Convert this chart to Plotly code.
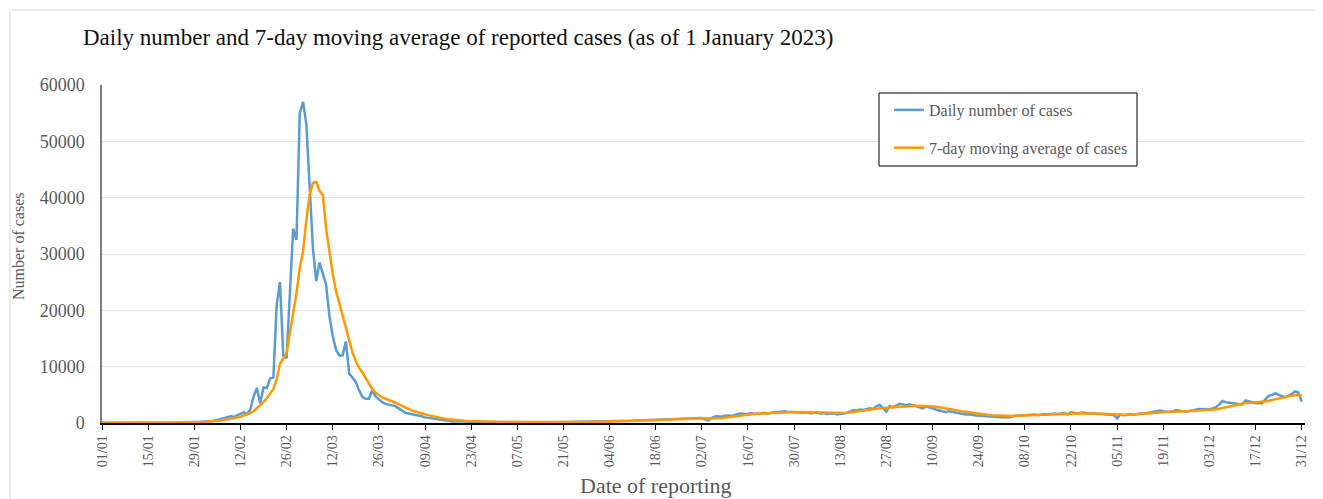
import pandas as pd
import plotly.graph_objects as go

# ---------------- data ----------------
dates = pd.date_range("2022-01-01", "2022-12-31", freq="D")

tick_labels = ["01/01", "15/01", "29/01", "12/02", "26/02", "12/03", "26/03", "09/04", "23/04",
               "07/05", "21/05", "04/06", "18/06", "02/07", "16/07", "30/07", "13/08", "27/08",
               "10/09", "24/09", "08/10", "22/10", "05/11", "19/11", "03/12", "17/12", "31/12"]

daily_cases = (
    # Jan
    [30, 20, 40, 30, 50, 40, 30, 40, 50, 40, 50, 60, 50, 40,
     60, 50, 70, 60, 80, 70, 90, 80, 100, 90, 120, 110, 140, 130,
     160, 180, 200]
    # Feb
    + [230, 260, 320, 400, 550, 700, 900, 1000, 1200, 1100, 1400, 1600, 1900, 1600,
       2400, 4700, 6200, 3500, 6300, 6200, 7900, 8100, 21000, 25000, 12000, 11500, 22500, 34500]
    # Mar
    + [32500, 55000, 57000, 53000, 42000, 31000, 25200, 28500, 26500, 24500, 19000, 15500,
       13000, 12000, 12000, 14500, 8800, 8000, 7300, 5800, 4600, 4300, 4300, 5800, 4700,
       4200, 3700, 3400, 3300, 3200, 3000]
    # Apr
    + [2600, 2200, 1800, 1700, 1600, 1500, 1300, 1200, 1000, 900, 800, 650, 600, 500, 420,
       380, 330, 300, 270, 250, 240, 220, 210, 200, 190, 180, 180, 170, 160, 160]
    # May
    + [150, 140, 150, 130, 140, 150, 140, 130, 140, 150, 140, 130, 140, 150, 140, 130,
       140, 150, 160, 150, 140, 150, 160, 150, 160, 170, 160, 170, 180, 190, 200]
    # Jun
    + [210, 220, 240, 260, 280, 300, 330, 350, 380, 400, 420, 450, 470, 500, 520, 540,
       560, 580, 600, 620, 640, 660, 680, 700, 720, 760, 800, 850, 900, 950]
    # Jul
    + [950, 900, 600, 450, 900, 1150, 1200, 1100, 1300, 1350, 1250, 1450, 1600, 1700, 1600,
       1650, 1750, 1600, 1700, 1750, 1800, 1650, 1850, 1950, 1900, 2000, 2100, 2000, 1950,
       2000, 1900]
    # Aug
    + [1850, 1800, 1900, 1750, 1800, 1850, 1700, 1750, 1600, 1650, 1700, 1500, 1650, 1700,
       1800, 2000, 2300, 2200, 2400, 2300, 2500, 2600, 2500, 3000, 3200, 2600, 2000, 3000,
       2800, 3100, 3400]
    # Sep
    + [3300, 3100, 3300, 3200, 3000, 2800, 2600, 2900, 2800, 2600, 2400, 2200, 2000, 1900,
       2100, 2000, 1900, 1700, 1600, 1500, 1550, 1400, 1350, 1300, 1250, 1200, 1150, 1100,
       1050, 1050]
    # Oct
    + [1000, 1050, 1000, 1100, 1300, 1300, 1350, 1400, 1350, 1450, 1500, 1400, 1550, 1600,
       1500, 1650, 1700, 1600, 1700, 1750, 1500, 1900, 1800, 1700, 1800, 1850, 1700, 1650,
       1750, 1600, 1600]
    # Nov
    + [1550, 1600, 1500, 1400, 800, 1500, 1400, 1500, 1600, 1450, 1600, 1700, 1650, 1750,
       1800, 1900, 2100, 2200, 2100, 2000, 1950, 2100, 2300, 2200, 2100, 2000, 2150, 2200,
       2400, 2500]
    # Dec
    + [2450, 2500, 2400, 2600, 2800, 3300, 3900, 3700, 3600, 3600, 3500, 3400, 3300, 4000,
       3800, 3600, 3500, 3550, 3500, 4200, 4800, 5000, 5300, 5000, 4800, 4600, 4800, 5200,
       5600, 5400, 3800]
)

moving_avg = (
    # Jan
    [30, 30, 30, 30, 35, 35, 35, 40, 40, 40, 45, 45, 50, 50, 55, 55, 60, 60, 65, 70,
     75, 80, 85, 90, 100, 105, 115, 125, 135, 150, 165]
    # Feb
    + [185, 210, 250, 300, 360, 430, 520, 620, 730, 850, 980, 1120, 1300, 1500, 1750,
       2100, 2600, 3100, 3700, 4400, 5200, 6000, 7800, 10500, 11500, 12300, 16000, 19500]
    # Mar
    + [23000, 27500, 30500, 36000, 40500, 42600, 42800, 41200, 40500, 34500, 30000, 26500,
       23500, 21300, 19300, 17000, 14500, 12500, 11000, 9800, 9000, 8000, 6800, 6000, 5400,
       4900, 4500, 4300, 4100, 3900, 3600]
    # Apr
    + [3300, 3000, 2750, 2500, 2250, 2050, 1850, 1700, 1550, 1400, 1250, 1100, 980, 870,
       770, 680, 600, 530, 470, 420, 380, 350, 320, 300, 280, 260, 240, 225, 210, 200]
    # May
    + [190, 180, 175, 170, 165, 160, 155, 150, 150, 145, 145, 145, 145, 145, 145, 145,
       145, 145, 145, 150, 150, 150, 155, 155, 160, 160, 165, 170, 175, 180, 190]
    # Jun
    + [200, 210, 225, 240, 255, 275, 295, 315, 335, 355, 380, 400, 420, 440, 460, 480,
       500, 520, 540, 560, 580, 600, 620, 640, 660, 690, 720, 750, 780, 810]
    # Jul
    + [840, 860, 840, 800, 780, 800, 850, 900, 980, 1060, 1140, 1220, 1300, 1380, 1450,
       1500, 1550, 1600, 1640, 1680, 1710, 1740, 1770, 1800, 1830, 1860, 1890, 1920, 1940,
       1950, 1950]
    # Aug
    + [1940, 1920, 1900, 1880, 1860, 1840, 1820, 1800, 1780, 1760, 1740, 1720, 1720, 1740,
       1780, 1850, 1950, 2050, 2150, 2250, 2320, 2400, 2460, 2530, 2600, 2650, 2700, 2700,
       2720, 2750, 2800]
    # Sep
    + [2850, 2900, 2950, 3000, 3050, 3050, 3050, 3000, 2980, 2950, 2880, 2800, 2700, 2600,
       2500, 2400, 2300, 2200, 2100, 2000, 1920, 1850, 1750, 1650, 1550, 1480, 1420, 1370,
       1330, 1300]
    # Oct
    + [1270, 1250, 1240, 1240, 1260, 1290, 1320, 1350, 1380, 1410, 1440, 1470, 1500, 1520,
       1540, 1560, 1580, 1600, 1620, 1640, 1650, 1660, 1680, 1700, 1710, 1720, 1720, 1710,
       1700, 1680, 1650]
    # Nov
    + [1630, 1600, 1560, 1500, 1450, 1420, 1420, 1440, 1470, 1500, 1540, 1580, 1620, 1660,
       1700, 1750, 1800, 1850, 1900, 1950, 1990, 2030, 2060, 2090, 2110, 2130, 2150, 2170,
       2190, 2210]
    # Dec
    + [2230, 2260, 2300, 2350, 2420, 2520, 2650, 2800, 2950, 3100, 3250, 3380, 3480, 3550,
       3600, 3620, 3640, 3660, 3700, 3800, 3950, 4100, 4250, 4400, 4550, 4650, 4750, 4850,
       4950, 5000, 4850]
)

series_names = ["Daily number of cases", "7-day moving average of cases"]
series_colors = ["#5B9BD5", "#FF9900"]

# ---------------- figure ----------------
# the page body has an 8px margin, so layout pixel values are offset by 8
OFF = 8
W, H = 1323, 499
PL, PR, PT, PB = 102 - OFF, 1305 - OFF, 85 - OFF, 423 - OFF   # plot box in figure px
PW, PH = PR - PL, PB - PT

def px(x):  # screen x -> paper x
    return (x - 102) / PW

def py(y):  # screen y -> paper y
    return (423 - y) / PH

tick_dates = dates[::14]
FONT = "Liberation Serif"
GREY = "#595959"

fig = go.Figure()
fig.add_trace(go.Scatter(x=dates, y=daily_cases, mode="lines", name=series_names[0],
                         legendgroup="a", line=dict(color=series_colors[0], width=2.5)))
fig.add_trace(go.Scatter(x=dates, y=moving_avg, mode="lines", name=series_names[1],
                         legendgroup="b", line=dict(color=series_colors[1], width=2.5)))

fig.update_layout(
    width=W, height=H,
    margin=dict(l=PL, r=W - PR, t=PT, b=H - PB, autoexpand=False),
    paper_bgcolor="white", plot_bgcolor="white",
    font=dict(family=FONT, color=GREY),
    title=dict(text="Daily number and 7-day moving average of reported cases (as of 1 January 2023)",
               x=(83 - OFF) / W, xanchor="left", y=1 - (37 - OFF) / H, yanchor="middle",
               font=dict(family=FONT, size=23, color="#111111")),
    showlegend=True,
    legend=dict(x=px(889), y=py(93), xanchor="left", yanchor="top",
                bgcolor="rgba(0,0,0,0)", borderwidth=0,
                font=dict(family=FONT, size=16, color=GREY),
                traceorder="grouped", tracegroupgap=14, itemwidth=30),
    xaxis=dict(range=[pd.Timestamp("2022-01-01"), pd.Timestamp("2023-01-01")],
               tickmode="array", tickvals=tick_dates, ticktext=tick_labels,
               tickangle=-90, tickfont=dict(family=FONT, size=14, color=GREY),
               ticks="outside", ticklen=5, tickcolor="black",
               showline=True, linecolor="black", linewidth=1.5,
               showgrid=False, zeroline=False, automargin=False),
    yaxis=dict(range=[0, 60000], tickmode="array",
               tickvals=[0, 10000, 20000, 30000, 40000, 50000, 60000],
               ticktext=["0", "10000", "20000", "30000", "40000", "50000", "60000"],
               tickfont=dict(family=FONT, size=18, color=GREY),
               ticklabelstandoff=12,
               showline=True, linecolor="#808080", linewidth=1.5,
               showgrid=True, gridcolor="#e6e6e6", gridwidth=1, zeroline=False,
               automargin=False),
)

# axis titles
fig.add_annotation(text="Number of cases", xref="paper", yref="paper",
                   x=px(18), y=py(246), xanchor="center", yanchor="middle",
                   textangle=-90, showarrow=False,
                   font=dict(family=FONT, size=16, color=GREY))
fig.add_annotation(text="Date of reporting", xref="paper", yref="paper",
                   x=px(656), y=py(485), xanchor="center", yanchor="middle",
                   showarrow=False, font=dict(family=FONT, size=22, color=GREY))

# outer chart-area border
fig.add_shape(type="rect", xref="paper", yref="paper",
              x0=px(10), x1=px(1322), y0=py(510), y1=py(10),
              line=dict(color="#d9d9d9", width=1), fillcolor="rgba(0,0,0,0)", layer="below")

# legend box
fig.add_shape(type="rect", xref="paper", yref="paper",
              x0=px(879), x1=px(1137), y0=py(166), y1=py(93),
              line=dict(color="black", width=1), fillcolor="white", layer="above")

fig.write_html("out.html")
